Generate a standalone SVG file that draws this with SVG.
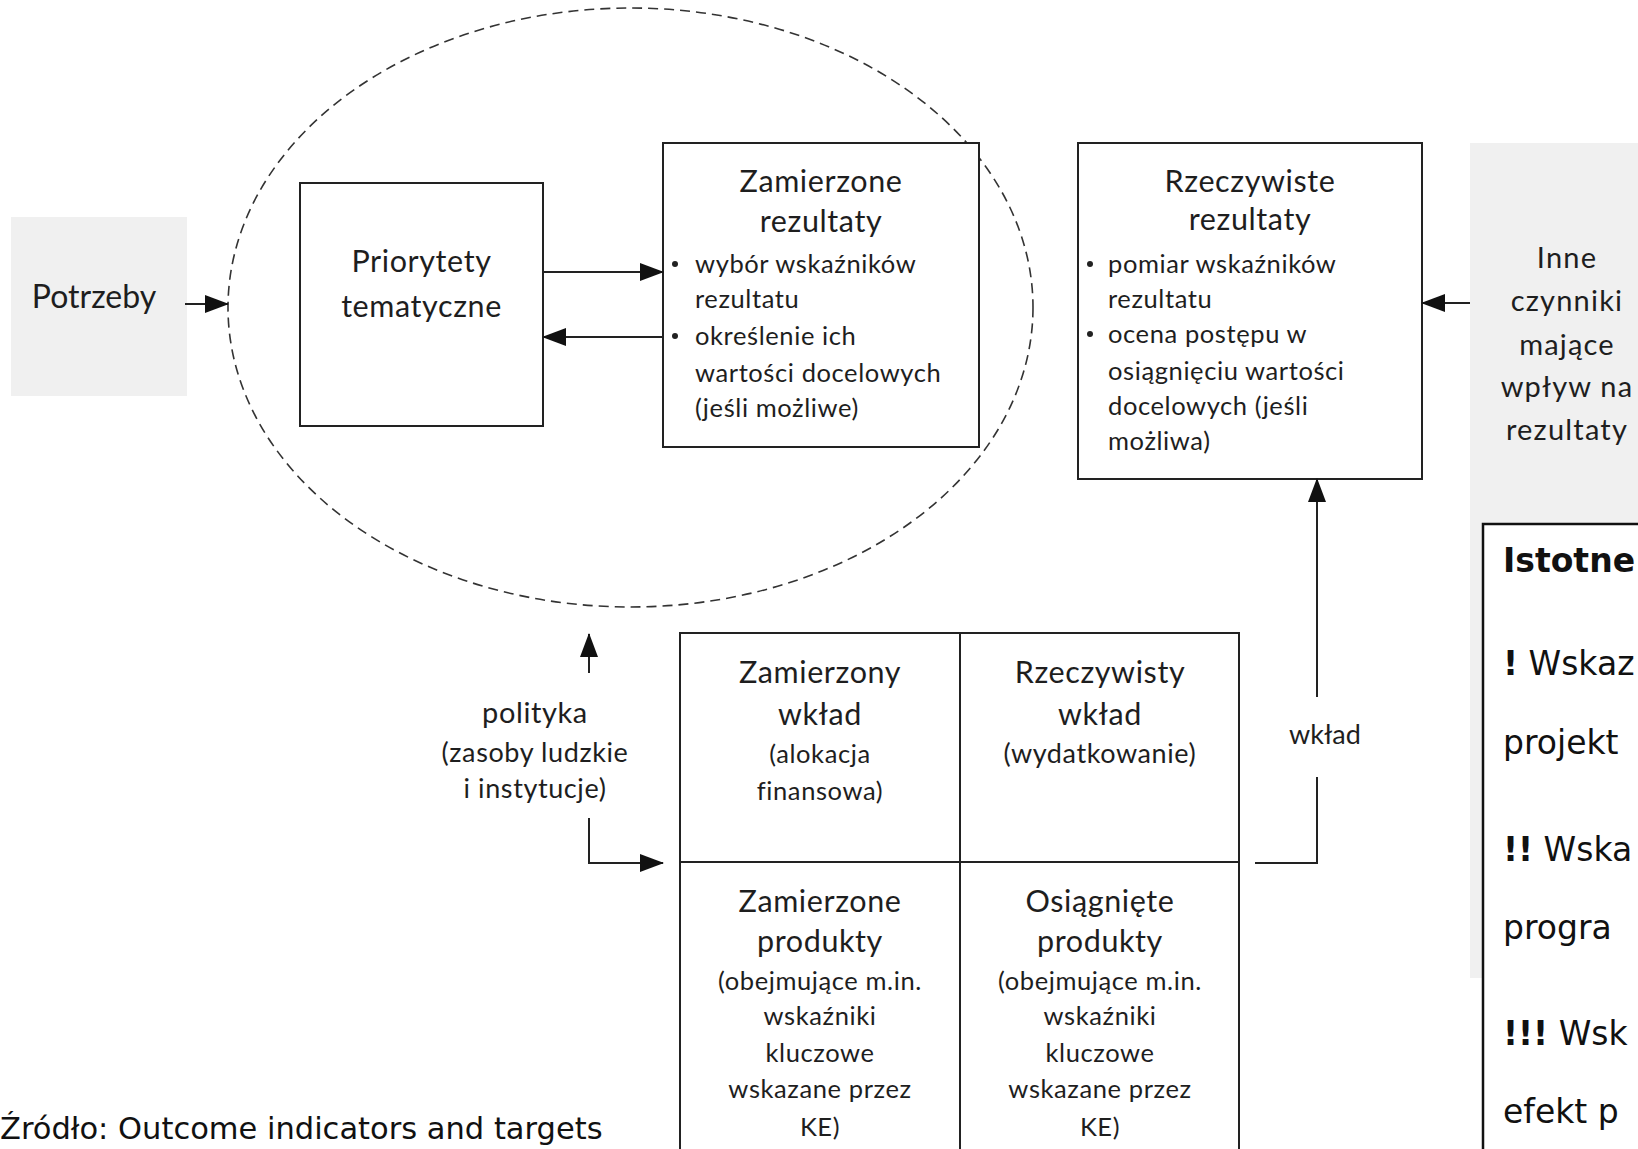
<svg xmlns="http://www.w3.org/2000/svg" width="1638" height="1149" viewBox="0 0 1638 1149">
<style>
.t{font-family:Lato,"Liberation Sans",sans-serif;fill:#1e1e1e}
.c{text-anchor:middle}
.ti{font-size:30.5px;letter-spacing:0.6px}
.b{font-size:25.5px;letter-spacing:0.6px}
.b27{font-size:27px;letter-spacing:0.6px}
.box{fill:#fff;stroke:#222;stroke-width:2}
.gray{fill:#f0f0f0}
.ln{fill:none;stroke:#222;stroke-width:2}
.cg{font-family:"DejaVu Sans","Liberation Sans",sans-serif;fill:#111;font-size:33px}
.src{font-family:"DejaVu Sans","Liberation Sans",sans-serif;fill:#111;font-size:30.5px}
.side{font-size:29px;letter-spacing:1.2px}
</style>
<defs>
<marker id="ah" viewBox="0 0 24 18" refX="23" refY="9" markerWidth="24" markerHeight="18" markerUnits="userSpaceOnUse" orient="auto">
<path d="M0,0 L24,9 L0,18 Z" fill="#111"/>
</marker>
</defs>
<rect width="1638" height="1149" fill="#fff"/>

<g id="ellipse">
<ellipse cx="630.5" cy="307.5" rx="402.5" ry="299.5" fill="none" stroke="#333" stroke-width="1.6" stroke-dasharray="10 6"/>
</g>

<g id="potrzeby">
<rect class="gray" x="11" y="217" width="176" height="179"/>
<text class="t c" x="94" y="308" font-size="32">Potrzeby</text>
</g>

<g id="priorytety">
<rect class="box" x="300" y="183" width="243" height="243"/>
<text class="t c ti" x="421.5" y="272">Priorytety</text>
<text class="t c ti" x="421.5" y="317">tematyczne</text>
</g>

<g id="zamierzone-rezultaty">
<rect class="box" x="663" y="143" width="316" height="304"/>
<text class="t c ti" x="821" y="192">Zamierzone</text>
<text class="t c ti" x="821" y="232">rezultaty</text>
<circle cx="675" cy="264" r="3" fill="#222"/>
<text class="t b" x="695" y="273">wybór wskaźników</text>
<text class="t b" x="695" y="308">rezultatu</text>
<circle cx="675" cy="336" r="3" fill="#222"/>
<text class="t b" x="695" y="345">określenie ich</text>
<text class="t b" x="695" y="382">wartości docelowych</text>
<text class="t b" x="695" y="417">(jeśli możliwe)</text>
</g>

<g id="rzeczywiste-rezultaty">
<rect class="box" x="1078" y="143" width="344" height="336"/>
<text class="t c ti" x="1250" y="192">Rzeczywiste</text>
<text class="t c ti" x="1250" y="230">rezultaty</text>
<circle cx="1090" cy="264" r="3" fill="#222"/>
<text class="t b" x="1108" y="273">pomiar wskaźników</text>
<text class="t b" x="1108" y="308">rezultatu</text>
<circle cx="1090" cy="334" r="3" fill="#222"/>
<text class="t b" x="1108" y="343">ocena postępu w</text>
<text class="t b" x="1108" y="380">osiągnięciu wartości</text>
<text class="t b" x="1108" y="415">docelowych (jeśli</text>
<text class="t b" x="1108" y="450">możliwa)</text>
</g>

<g id="inne-czynniki">
<rect class="gray" x="1470" y="143" width="168" height="835"/>
<text class="t c side" x="1567" y="268">Inne</text>
<text class="t c side" x="1567" y="311">czynniki</text>
<text class="t c side" x="1567" y="355">mające</text>
<text class="t c side" x="1567" y="397">wpływ na</text>
<text class="t c side" x="1567" y="440">rezultaty</text>
</g>

<g id="polityka">
<text class="t c" x="535" y="723" font-size="29" letter-spacing="0.6">polityka</text>
<text class="t c b27" x="535" y="762">(zasoby ludzkie</text>
<text class="t c b27" x="535" y="798">i instytucje)</text>
</g>

<g id="grid">
<rect class="box" x="680" y="633" width="559" height="530"/>
<line class="ln" x1="960" y1="633" x2="960" y2="1163"/>
<line class="ln" x1="680" y1="862" x2="1239" y2="862"/>
</g>

<g id="zamierzony-wklad">
<text class="t c ti" x="820" y="683">Zamierzony</text>
<text class="t c ti" x="820" y="725">wkład</text>
<text class="t c b" x="820" y="763">(alokacja</text>
<text class="t c b" x="820" y="800">finansowa)</text>
</g>

<g id="rzeczywisty-wklad">
<text class="t c ti" x="1100" y="683">Rzeczywisty</text>
<text class="t c ti" x="1100" y="725">wkład</text>
<text class="t c b27" x="1100" y="763">(wydatkowanie)</text>
</g>

<g id="zamierzone-produkty">
<text class="t c ti" x="820" y="912">Zamierzone</text>
<text class="t c ti" x="820" y="952">produkty</text>
<text class="t c b" x="820" y="990">(obejmujące  m.in.</text>
<text class="t c b" x="820" y="1025">wskaźniki</text>
<text class="t c b" x="820" y="1062">kluczowe</text>
<text class="t c b" x="820" y="1098">wskazane przez</text>
<text class="t c b" x="820" y="1136">KE)</text>
</g>

<g id="osiagniete-produkty">
<text class="t c ti" x="1100" y="912">Osiągnięte</text>
<text class="t c ti" x="1100" y="952">produkty</text>
<text class="t c b" x="1100" y="990">(obejmujące m.in.</text>
<text class="t c b" x="1100" y="1025">wskaźniki</text>
<text class="t c b" x="1100" y="1062">kluczowe</text>
<text class="t c b" x="1100" y="1098">wskazane przez</text>
<text class="t c b" x="1100" y="1136">KE)</text>
</g>

<g id="wklad-label">
<text class="t c" x="1325" y="744" font-size="27">wkład</text>
</g>

<g id="connectors">
<line class="ln" x1="185" y1="304" x2="228" y2="304" marker-end="url(#ah)"/>
<line class="ln" x1="543" y1="272" x2="663" y2="272" marker-end="url(#ah)"/>
<line class="ln" x1="663" y1="337" x2="543" y2="337" stroke="#444" marker-end="url(#ah)"/>
<line class="ln" x1="1470" y1="303" x2="1422" y2="303" marker-end="url(#ah)"/>
<line class="ln" x1="589" y1="673" x2="589" y2="634" marker-end="url(#ah)"/>
<path class="ln" d="M589,818 V863 H663" marker-end="url(#ah)"/>
<path class="ln" d="M1255,863 H1317 V777"/>
<line class="ln" x1="1317" y1="697" x2="1317" y2="479" marker-end="url(#ah)"/>
</g>

<g id="istotne">
<rect x="1483" y="524" width="200" height="700" fill="#fff" stroke="#111" stroke-width="2.5"/>
<text class="cg" x="1503" y="572" font-weight="bold">Istotne</text>
<text class="cg" x="1503" y="675"><tspan font-weight="bold">!</tspan> Wskaz</text>
<text class="cg" x="1503" y="754">projekt</text>
<text class="cg" x="1503" y="861"><tspan font-weight="bold">!!</tspan> Wska</text>
<text class="cg" x="1503" y="939">progra</text>
<text class="cg" x="1503" y="1045"><tspan font-weight="bold">!!!</tspan> Wsk</text>
<text class="cg" x="1503" y="1123">efekt p</text>
</g>

<g id="zrodlo">
<text class="src" x="0" y="1139">Źródło: Outcome indicators and targets</text>
</g>
</svg>
